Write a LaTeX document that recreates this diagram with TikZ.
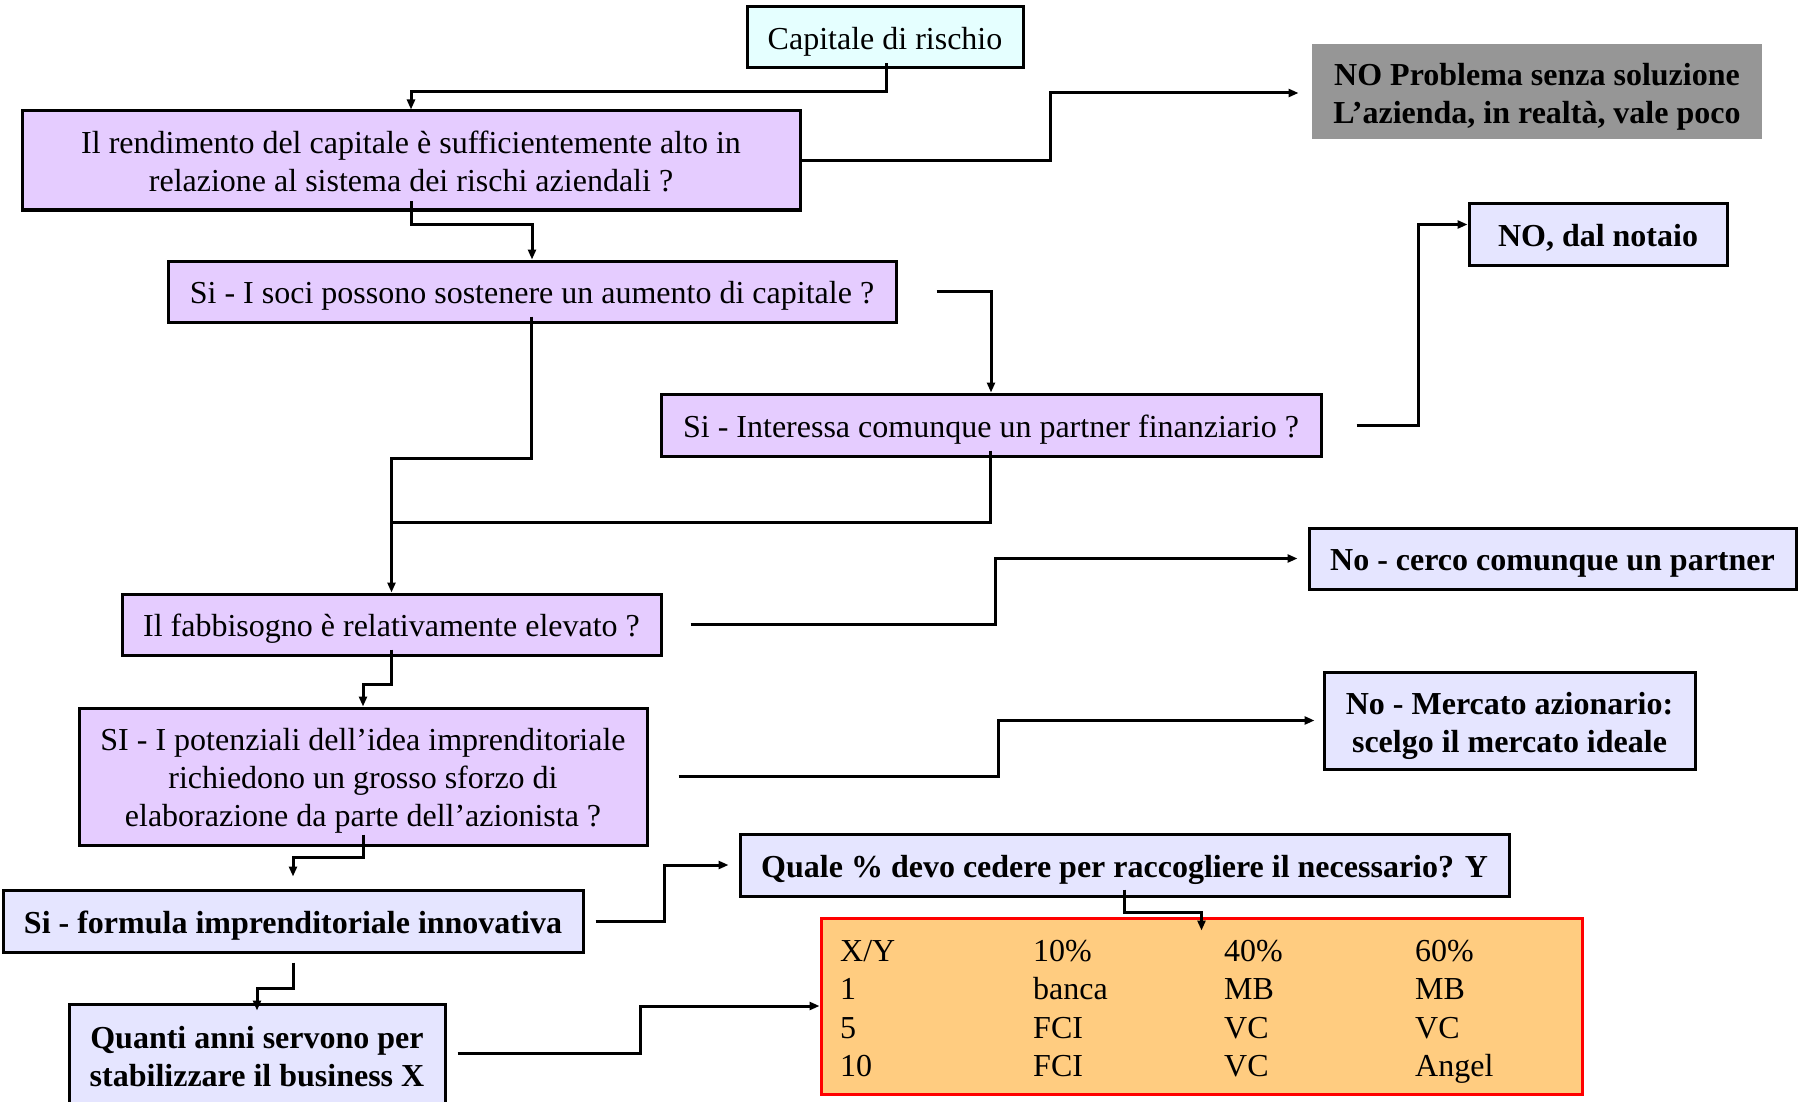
\documentclass[tikz,border=0pt]{standalone}
\usepackage{fontspec}
\setmainfont{Liberation Serif}
\usetikzlibrary{calc,arrows.meta}
\definecolor{lilac}{HTML}{E5CCFF}
\definecolor{lav}{HTML}{E5E5FF}
\definecolor{aqua}{HTML}{E5FFFF}
\definecolor{grayb}{HTML}{969696}
\definecolor{orangeb}{HTML}{FFCC80}
\newcommand\lowtext[2][4.6pt]{\raisebox{-#1}[\height][\depth]{\begin{tabular}{@{}c@{}}#2\end{tabular}}}
\begin{document}
\begin{tikzpicture}[x=1pt,y=-1pt,
  box/.style={draw=black, line width=3pt, inner sep=0pt, align=center, font=\fontsize{32}{38}\selectfont},
  qbox/.style={box, fill=lilac},
  abox/.style={box, fill=lav, font=\fontsize{32}{38}\selectfont\bfseries},
  conn/.style={line width=3pt},
  arr/.style={conn, -{Triangle[length=10pt,width=8pt]}},
]
\clip (0,0) rectangle (1798,1102);
\node[box, fill=aqua, minimum width=276pt, minimum height=61pt] (cap) at (885,37.5) {\lowtext{Capitale di rischio}};
\node[qbox, minimum width=778pt, minimum height=99pt] (q1) at (411,160.5) {\lowtext[4.8pt]{Il rendimento del capitale è sufficientemente alto in\\relazione al sistema dei rischi aziendali ?}};
\node[abox, draw=none, fill=grayb, minimum width=450pt, minimum height=95pt] (nop) at (1537,91.5) {\lowtext[5.5pt]{NO Problema senza soluzione\\L’azienda, in realtà, vale poco}};
\node[qbox, minimum width=728pt, minimum height=61pt] (q2) at (532,291.5) {\lowtext{Si - I soci possono sostenere un aumento di capitale ?}};
\node[abox, minimum width=258pt, minimum height=61pt] (notaio) at (1598,234.5) {\lowtext{NO, dal notaio}};
\node[qbox, minimum width=660pt, minimum height=62pt] (q3) at (991,425) {\lowtext{Si - Interessa comunque un partner finanziario ?}};
\node[abox, minimum width=487pt, minimum height=61pt] (cerco) at (1552.5,558.5) {\lowtext{No - cerco comunque un partner}};
\node[qbox, minimum width=539pt, minimum height=61pt] (q4) at (391.5,624.5) {\lowtext{Il fabbisogno è relativamente elevato ?}};
\node[qbox, minimum width=568pt, minimum height=137pt] (q5) at (363,776.5) {\lowtext{SI - I potenziali dell’idea imprenditoriale\\richiedono un grosso sforzo di\\elaborazione da parte dell’azionista ?}};
\node[abox, minimum width=371pt, minimum height=97pt] (mercato) at (1509.5,720.5) {\lowtext[5.5pt]{No - Mercato azionario:\\scelgo il mercato ideale}};
\node[abox, minimum width=580pt, minimum height=62pt] (formula) at (293,921) {\lowtext{Si - formula imprenditoriale innovativa}};
\node[abox, minimum width=769pt, minimum height=62pt] (quale) at (1124.5,865) {\lowtext{Quale \% devo cedere per raccogliere il necessario? Y}};
\node[abox, minimum width=376pt, minimum height=104pt] (quanti) at (257,1056) {\lowtext[3.5pt]{Quanti anni servono per\\stabilizzare il business X}};
\node[box, draw=red, fill=orangeb, minimum width=761pt, minimum height=176pt] (tbl) at (1201.5,1006) {};
\node[anchor=west, inner sep=0pt, font=\fontsize{32}{38.5}\selectfont] (tbltext) at (840,1011.5) {\begin{tabular}{@{}p{193pt}@{}p{191pt}@{}p{191pt}@{}l@{}}X/Y & 10\% & 40\% & 60\%\\ 1 & banca & MB & MB\\ 5 & FCI & VC & VC\\ 10 & FCI & VC & Angel\end{tabular}};

\coordinate (j1) at ($(q4.north)+(0,-70)$);
\draw[arr] ($(cap.south)+(1,-6)$) -- ++(0,28) -| (q1.north);
\draw[arr] (q1.east) -- ++(249,0) |- ($(nop.west)+(-12,1.5)$);
\draw[arr] ($(q1.south)+(0,-10)$) -- ++(0,23) -| (q2.north);
\draw[arr] ($(q2.east)+(39,0)$) -| (q3.north);
\draw[arr] ($(q2.south)+(-1,-7)$) -- ++(0,142) -| (q4.north);
\draw[conn] ($(q3.south)+(-1,-7)$) |- (j1);
\draw[arr] ($(q3.east)+(34,0)$) -- ++(62,0) |- ($(notaio.west)+(0,-10)$);
\draw[arr] ($(q4.east)+(28,0)$) -- ++(305,0) |- ($(cerco.west)+(-10,0)$);
\draw[arr] ($(q4.south)+(-0.5,-7)$) -- ++(0,35) -| (q5.north);
\draw[arr] ($(q5.east)+(30,0)$) -- ++(320,0) |- ($(mercato.west)+(-8,0)$);
\draw[arr] ($(q5.south)+(0,-12)$) -- ++(0,23) -| ($(formula.north)+(0,-12)$);
\draw[arr] ($(formula.east)+(11,0)$) -- ++(69,0) |- ($(quale.west)+(-10,0)$);
\draw[arr] ($(formula.south)+(0,9)$) -- ++(0,26) -| ($(quanti.north)+(0,8)$);
\draw[arr] ($(quanti.east)+(11,-3)$) -- ++(183,0) |- (tbl.west);
\draw[arr] ($(quale.south)+(-0.5,-8)$) -- ++(0,23) -| ($(tbl.north)+(0,14)$);
\end{tikzpicture}
\end{document}
